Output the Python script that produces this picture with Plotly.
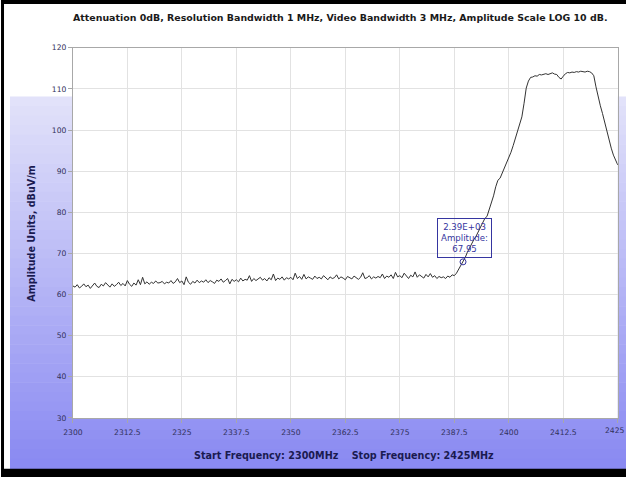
import numpy as np
import plotly.graph_objects as go

# sweep settings
freq_start = 2300
freq_stop = 2425
n_points = 251

# amplitude trace, dBuV/m, one value every 0.5 MHz
noise_floor = [
    62.1, 61.8, 62.4, 61.6, 62.0, 62.6, 61.9, 62.3, 61.5, 62.2,
    62.8, 62.0, 61.7, 62.5, 62.1, 62.9, 62.3, 61.8, 62.6, 62.0,
    62.4, 63.0, 62.2, 62.7, 62.1, 63.4, 62.5, 62.0, 62.8, 62.3,
    63.6, 62.4, 64.2, 62.6, 63.1, 62.5, 63.0, 62.7, 63.3, 62.8,
    62.9, 63.2, 62.6, 63.0, 62.8, 63.4, 62.7, 63.1, 63.9, 62.9,
    63.3, 62.4, 64.3, 63.0, 62.5, 63.2, 62.8, 63.5, 62.9, 63.3,
    63.0, 63.6, 62.9, 63.4, 63.1, 62.7, 63.5, 63.2, 63.8, 63.0,
    63.4, 63.9, 62.6, 63.7, 63.2, 63.6, 63.1, 64.0, 63.3, 63.7,
    63.5, 64.6, 63.2, 63.9, 63.4, 63.8, 64.2, 63.5, 63.9, 63.3,
    64.1, 63.6, 65.0, 63.4, 64.0, 63.7, 64.3, 63.5, 64.1, 63.8,
    64.2, 63.6, 65.2, 63.9, 64.4, 63.7, 64.9, 63.8, 64.3, 64.0,
    63.7, 64.5, 63.9, 64.2, 63.8, 64.6, 64.0, 63.6, 64.3, 63.9,
    64.1, 64.8, 63.8, 64.3, 64.0, 63.6, 64.4, 64.1, 63.8, 64.5,
    64.0, 63.7, 64.2, 65.3, 63.9, 64.1, 64.6, 63.8, 64.3, 64.0,
    64.4, 64.1, 65.0, 63.9, 64.5, 64.2, 64.8, 63.9, 65.4, 64.3,
    64.6, 64.1, 65.2, 64.4, 63.9, 64.7, 64.3, 65.5, 64.2, 64.8,
    64.5, 64.0, 64.9, 64.3, 65.1, 64.2, 64.6, 63.9, 64.4, 64.1,
    64.3, 63.9, 64.5, 64.2, 64.8, 64.6,
]
signal = [
    65.2, 66.1, 67.0, 67.95, 69.0, 70.3, 71.4, 72.3, 73.4, 74.2,
    75.3, 76.2, 77.6, 78.5, 79.0, 80.6, 82.3, 84.0, 86.2, 87.8,
    88.3, 89.6, 90.7, 91.8, 93.3, 94.6, 96.2, 98.0, 99.8, 101.4,
    103.2, 106.5, 110.2, 111.9, 112.8, 112.9, 113.2, 113.1, 113.5, 113.4,
    113.6, 113.7, 113.5, 113.8, 113.9, 113.6, 113.5, 112.8, 112.4, 113.1,
    113.7, 114.0, 113.9, 114.1, 114.0, 114.2, 114.1, 114.3, 114.2, 114.1,
    114.3, 114.2, 113.9, 113.2, 110.5, 108.0, 105.9, 104.0, 101.8, 99.9,
    97.8, 95.6, 93.9, 92.7, 91.5,
]
amplitude = noise_floor + signal
freq = np.linspace(freq_start, freq_stop, n_points)

x_ticks = [2300, 2312.5, 2325, 2337.5, 2350, 2362.5, 2375, 2387.5, 2400, 2412.5, 2425]
x_tick_labels = ["2300", "2312.5", "2325", "2337.5", "2350", "2362.5", "2375",
                 "2387.5", "2400", "2412.5", "2425"]
y_ticks = [30, 40, 50, 60, 70, 80, 90, 100, 110, 120]

# marker readout
marker_x = 2389.5
marker_y = 67.95

W, H = 626, 477
# the captured picture comes out shifted and slightly shrunk, so layout
# positions (in pixels) are mapped back here
SC, OX, OY = 0.986, 9, 4


def fx(px):
    return (px - OX) / SC / W


def fy(py):
    return 1 - (py - OY) / SC / H


def fs(size):
    return size / SC


fig = go.Figure()

# background: white top, blue gradient below
shapes = []
g_top, g_bot = 97, 480
n_bands = 40
c0 = np.array([226, 226, 250])
c1 = np.array([136, 136, 242])
for i in range(n_bands):
    t = i / (n_bands - 1)
    c = (c0 + (c1 - c0) * t).astype(int)
    y0 = g_top + (g_bot - g_top) * i / n_bands
    y1 = g_top + (g_bot - g_top) * (i + 1) / n_bands + 0.5
    shapes.append(dict(type="rect", xref="paper", yref="paper", layer="below",
                       x0=0, x1=1, y0=fy(y1), y1=fy(y0),
                       fillcolor=f"rgb({c[0]},{c[1]},{c[2]})", line_width=0))
# plot area
px0, px1, py0, py1 = 72, 618, 48, 420
shapes.append(dict(type="rect", xref="paper", yref="paper", layer="below",
                   x0=fx(px0), x1=fx(px1), y0=fy(py1), y1=fy(py0),
                   fillcolor="white", line_width=0))
# black frame (top, left, bottom)
for x0, x1, y0, y1 in [(0, 640, 0, 4), (0, 3, 0, 490), (0, 640, 471, 490)]:
    shapes.append(dict(type="rect", xref="paper", yref="paper", layer="above",
                       x0=fx(x0), x1=fx(x1), y0=fy(y1), y1=fy(y0),
                       fillcolor="black", line_width=0))

fig.add_trace(go.Scatter(
    x=freq, y=amplitude, mode="lines",
    line=dict(color="#333333", width=1),
    showlegend=False, hoverinfo="skip"
))
fig.add_trace(go.Scatter(
    x=[marker_x], y=[marker_y], mode="markers",
    marker=dict(symbol="circle-open", size=6, color="#3535a0", line=dict(width=1)),
    showlegend=False, hoverinfo="skip"
))

fig.add_annotation(
    x=marker_x, y=marker_y, xref="x", yref="y",
    text=f"{marker_x:.2E}" + "<br>Amplitude:<br>" + f"{marker_y:.2f}",
    showarrow=False, xanchor="center", yanchor="bottom", yshift=4, xshift=1,
    font=dict(family="DejaVu Sans", size=fs(8.5), color="#3535a0"),
    bordercolor="#3535a0", borderwidth=1, borderpad=3, align="center"
)

fig.add_annotation(
    x=fx(340), y=fy(18), xref="paper", yref="paper", xanchor="center", yanchor="middle",
    text="Attenuation 0dB, Resolution Bandwidth 1 MHz, Video Bandwidth 3 MHz, Amplitude Scale LOG 10 dB.",
    showarrow=False, font=dict(family="DejaVu Sans", size=fs(9.3), color="#1a1a1a", weight="bold")
)
fig.add_annotation(
    x=fx(344), y=fy(458), xref="paper", yref="paper", xanchor="center", yanchor="middle",
    text="Start Frequency: 2300MHz&nbsp;&nbsp;&nbsp;&nbsp;Stop Frequency: 2425MHz",
    showarrow=False, font=dict(family="DejaVu Sans", size=fs(9.5), color="#1a1a50", weight="bold")
)
fig.add_annotation(
    x=fx(31), y=fy(234), xref="paper", yref="paper", xanchor="center", yanchor="middle",
    text="Amplitude Units, dBuV/m", textangle=-90,
    showarrow=False, font=dict(family="DejaVu Sans", size=fs(9.5), color="#1a1a50", weight="bold")
)

tick_font = dict(family="DejaVu Sans", size=fs(7.5), color="#30305a")
# last x label sits at the very edge of the picture, keep it inside the page
fig.add_annotation(
    x=1, y=fy(433), xref="paper", yref="paper", xanchor="right", yanchor="middle",
    text=x_tick_labels[-1], showarrow=False, font=tick_font
)

axis_common = dict(
    showgrid=True, gridcolor="#e2e2e2", gridwidth=1,
    showline=True, linecolor="#a8a8a8", linewidth=1, mirror=True,
    ticks="outside", ticklen=4, tickcolor="#a8a8a8",
    tickfont=tick_font, zeroline=False, fixedrange=True,
)
fig.update_xaxes(range=[freq_start, freq_stop], tickvals=x_ticks, ticktext=x_tick_labels,
                 domain=[fx(px0), fx(px1)], ticklabelstandoff=3, **axis_common)
fig.update_yaxes(range=[30, 120], tickvals=y_ticks,
                 domain=[fy(py1), fy(py0)], **axis_common)

fig.update_layout(
    width=W, height=H,
    margin=dict(l=0, r=0, t=0, b=0),
    paper_bgcolor="white", plot_bgcolor="rgba(0,0,0,0)",
    shapes=shapes,
)

fig.write_html("out.html", config={"displayModeBar": False},
               post_script="document.body.style.margin='0';")
